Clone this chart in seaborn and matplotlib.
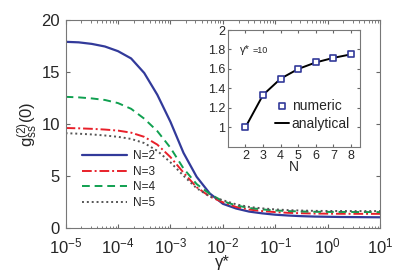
import numpy as np
import pandas as pd
import matplotlib
matplotlib.use("Agg")
import matplotlib.pyplot as plt
import seaborn as sns

# ---- data ----
log_gamma = [-5.0, -4.75, -4.5, -4.25, -4.0, -3.75, -3.5, -3.25, -3.0, -2.75, -2.5, -2.25,
             -2.0, -1.75, -1.5, -1.25, -1.0, -0.75, -0.5, -0.25, 0.0, 0.25, 0.5, 0.75, 1.0]
g_N2 = [17.9, 17.85, 17.7, 17.45, 17.0, 16.3, 14.9, 12.8, 10.2, 7.2, 4.9, 3.3,
        2.3, 1.85, 1.55, 1.38, 1.25, 1.17, 1.11, 1.07, 1.05, 1.03, 1.02, 1.01, 1.0]
g_N3 = [9.6, 9.57, 9.52, 9.45, 9.35, 9.15, 8.75, 8.0, 6.8, 5.3, 3.9, 3.0,
        2.45, 2.0, 1.75, 1.6, 1.5, 1.43, 1.39, 1.36, 1.35, 1.34, 1.335, 1.334, 1.333]
g_N4 = [12.6, 12.55, 12.45, 12.3, 12.0, 11.45, 10.5, 9.3, 7.7, 5.7, 4.2, 3.25,
        2.55, 2.15, 1.9, 1.76, 1.66, 1.6, 1.56, 1.53, 1.52, 1.515, 1.51, 1.505, 1.5]
g_N5 = [9.1, 9.05, 8.98, 8.88, 8.75, 8.55, 8.15, 7.4, 6.3, 5.0, 3.8, 3.0,
        2.65, 2.25, 2.0, 1.86, 1.76, 1.69, 1.65, 1.62, 1.61, 1.605, 1.6, 1.6, 1.6]
series_labels = ["N=2", "N=3", "N=4", "N=5"]

inset_N = [2, 3, 4, 5, 6, 7, 8]
inset_numeric = [1.0, 1.333, 1.5, 1.6, 1.667, 1.714, 1.75]
inset_analytical = [1.0, 1.333, 1.5, 1.6, 1.667, 1.714, 1.75]

main_yticks = [0, 5, 10, 15, 20]
inset_yticks = [1, 1.2, 1.4, 1.6, 1.8, 2]
inset_yticklabels = ["1", "1.2", "1.4", "1.6", "1.8", "2"]

# ---- style ----
sns.set_style("ticks")
plt.rcParams["font.family"] = ["Liberation Sans", "DejaVu Sans"]
plt.rcParams["mathtext.fontset"] = "custom"
plt.rcParams["mathtext.rm"] = "Liberation Sans"
plt.rcParams["mathtext.it"] = "Liberation Sans"
plt.rcParams["xtick.direction"] = "in"
plt.rcParams["ytick.direction"] = "in"

blue = "#323a9a"
red = "#e8202a"
green = "#10a050"
gray = "#555555"
colors = [blue, red, green, gray]
styles = ["-", (0, (5, 1.5, 1, 1.5)), (0, (4, 2.5)), (0, (1, 1.5))]

fig = plt.figure(figsize=(4.15, 2.78), dpi=100)
ax = fig.add_axes([0.158, 0.181, 0.758, 0.747])

gamma = [10.0 ** k for k in log_gamma]
df = pd.DataFrame({"gamma": gamma * 4,
                   "g": g_N2 + g_N3 + g_N4 + g_N5,
                   "N": sum([[s] * len(gamma) for s in series_labels], [])})
for lab, c, ls in zip(series_labels, colors, styles):
    sub = df[df["N"] == lab]
    sns.lineplot(data=sub, x="gamma", y="g", ax=ax, color=c, lw=1.6 if lab == "N=2" else 1.4,
                 label=lab, estimator=None, sort=False)
    ax.lines[-1].set_linestyle(ls)

ax.set_xscale("log")
ax.set_xlim(1e-5, 1e1)
ax.set_ylim(0, 20)
ax.set_yticks(main_yticks)
ax.set_xticks([1e-5, 1e-4, 1e-3, 1e-2, 1e-1, 1e0, 1e1])
ax.xaxis.set_minor_locator(matplotlib.ticker.LogLocator(base=10, subs=np.arange(2, 10), numticks=20))
ax.xaxis.set_minor_formatter(matplotlib.ticker.NullFormatter())
ax.tick_params(axis="both", which="major", labelsize=12, length=3, top=True, right=True, color="#666666")
ax.tick_params(axis="x", which="major", pad=6)
ax.tick_params(axis="y", which="major", pad=4)
ax.tick_params(axis="x", which="minor", length=1.8, top=True, color="#666666")
for sp in ax.spines.values():
    sp.set_visible(True)
    sp.set_color("#777777")
    sp.set_linewidth(0.8)
ax.set_xlabel(r"γ*", fontsize=12, labelpad=-1)
ax.set_ylabel(r"$\mathregular{g_{ss}^{(2)}(0)}$", fontsize=12, labelpad=1)

leg = ax.legend(loc="lower left", bbox_to_anchor=(0.02, 0.04), frameon=False, fontsize=8.5,
                handlelength=3.8, handletextpad=0.5, labelspacing=0.3)

# ---- inset ----
ax2 = fig.add_axes([0.549, 0.472, 0.318, 0.420])
sns.lineplot(x=inset_N, y=inset_analytical, ax=ax2, color="black", lw=1.4, label="analytical")
sns.scatterplot(x=inset_N, y=inset_numeric, ax=ax2, marker="s", s=22, facecolor="white",
                edgecolor=blue, linewidth=1.2, zorder=3, label="numeric")
ax2.set_xlim(1.0, 8.5)
ax2.set_ylim(0.8, 2.0)
ax2.set_xticks(inset_N)
ax2.set_yticks(inset_yticks)
ax2.set_yticklabels(inset_yticklabels)
ax2.tick_params(axis="both", labelsize=9, length=2.5, pad=2, top=True, right=True, color="#666666")
for sp in ax2.spines.values():
    sp.set_visible(True)
    sp.set_color("#777777")
    sp.set_linewidth(0.8)
ax2.set_xlabel("N", fontsize=10, labelpad=-1)
ax2.set_ylabel("")
ax2.text(0.09, 0.80, "γ*", transform=ax2.transAxes, fontsize=8)
ax2.text(0.19, 0.80, "=10", transform=ax2.transAxes, fontsize=6.5)
h, l = ax2.get_legend_handles_labels()
order = [l.index("numeric"), l.index("analytical")]
ax2.legend([h[i] for i in order], [l[i] for i in order], loc="lower right",
           bbox_to_anchor=(1.0, 0.05), frameon=False, fontsize=10,
           handlelength=1.0, handletextpad=0.2, labelspacing=0.3, borderpad=0.2)

fig.savefig("out.png", dpi=100)
